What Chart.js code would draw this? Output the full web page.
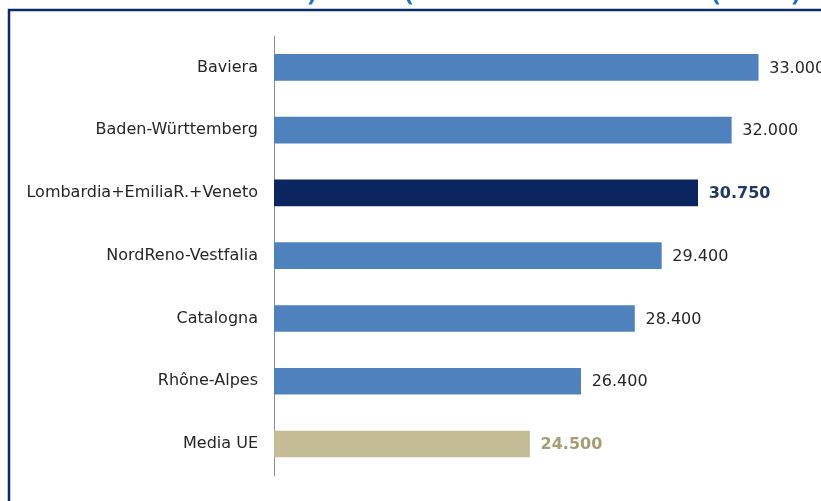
<!DOCTYPE html>
<html>
<head>
<meta charset="utf-8">
<script src="https://cdn.jsdelivr.net/npm/chart.js@4.4.1/dist/chart.umd.min.js"></script>
<style>
  html, body { margin: 0; padding: 0; background: #fff; }
  #wrap { width: 821px; height: 501px; position: relative; }
</style>
</head>
<body>
<div id="wrap"><canvas id="myChart"></canvas></div>
<script>
const regioni = [
  'Baviera',
  'Baden-Württemberg',
  'Lombardia+EmiliaR.+Veneto',
  'NordReno-Vestfalia',
  'Catalogna',
  'Rhône-Alpes',
  'Media UE'
];
const valori = [33000, 32000, 30750, 29400, 28400, 26400, 24500];
const etichette = ['33.000', '32.000', '30.750', '29.400', '28.400', '26.400', '24.500'];

const coloriBarre = ['#4f81bd', '#4f81bd', '#0b2560', '#4f81bd', '#4f81bd', '#4f81bd', '#c4bc96'];
const coloriEtichette = ['#262626', '#262626', '#1f3864', '#262626', '#262626', '#262626', '#a59d74'];
const pesiEtichette = ['normal', 'normal', 'bold', 'normal', 'normal', 'normal', 'bold'];

// cornice e frammenti del titolo tagliato in alto
const cornice = {
  id: 'cornice',
  beforeDraw(chart) {
    const ctx = chart.ctx;
    ctx.save();
    ctx.fillStyle = '#fff';
    ctx.fillRect(0, 0, chart.width, chart.height);
    ctx.strokeStyle = '#0b2a6b';
    ctx.lineWidth = 2.5;
    ctx.beginPath();
    ctx.moveTo(9, chart.height + 5);
    ctx.lineTo(9, 10);
    ctx.lineTo(chart.width + 5, 10);
    ctx.stroke();
    ctx.fillStyle = '#1a6fc4';
    ctx.font = 'bold 26px "Open Sans"';
    ctx.textBaseline = 'alphabetic';
    ctx.textAlign = 'center';
    [[')', 312], ['(', 409], ['(', 716], [')', 796]].forEach(function(p) {
      ctx.fillText(p[0], p[1], 0);
    });
    ctx.restore();
  }
};

const etichetteValori = {
  id: 'etichetteValori',
  afterDatasetsDraw(chart) {
    const ctx = chart.ctx;
    const meta = chart.getDatasetMeta(0);
    ctx.save();
    ctx.textAlign = 'left';
    ctx.textBaseline = 'middle';
    meta.data.forEach(function(bar, i) {
      ctx.font = pesiEtichette[i] + ' 16px "DejaVu Sans"';
      ctx.fillStyle = coloriEtichette[i];
      ctx.fillText(etichette[i], bar.x + 11, bar.y + 1);
    });
    ctx.restore();
  }
};

const config = {
  type: 'bar',
  data: {
    labels: regioni,
    datasets: [{
      data: valori,
      backgroundColor: coloriBarre,
      borderWidth: 0,
      barThickness: 26
    }]
  },
  options: {
    indexAxis: 'y',
    responsive: true,
    maintainAspectRatio: false,
    animation: false,
    layout: {
      padding: { top: 36, bottom: 18, left: 0, right: 9 }
    },
    plugins: {
      legend: { display: false },
      tooltip: { enabled: false },
      title: { display: false }
    },
    scales: {
      x: {
        display: false,
        min: 15000,
        max: 35000
      },
      y: {
        grid: { display: false, drawTicks: false },
        border: { display: true, color: '#8c8c8c', width: 1 },
        ticks: {
          color: '#262626',
          padding: 16,
          font: { family: '"DejaVu Sans"', size: 16 }
        },
        afterFit: function(scale) { scale.width = 274; }
      }
    }
  },
  plugins: [cornice, etichetteValori]
};

var myChart = new Chart(document.getElementById('myChart'), config);
</script>
</body>
</html>
